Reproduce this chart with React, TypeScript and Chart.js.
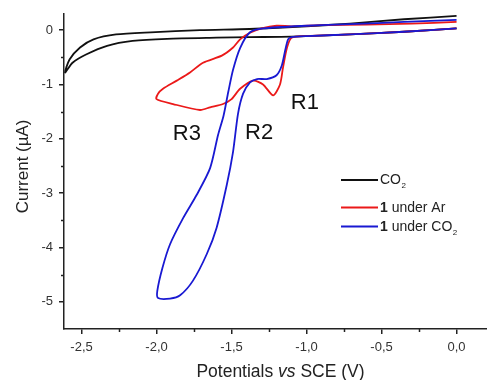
import React, { useEffect, useRef } from "react";
import { Chart, registerables } from "chart.js";
Chart.register(...registerables);

// ---- data ----
const xTicks = [-2.5, -2.0, -1.5, -1.0, -0.5, 0.0];
const yTicks = [0, -1, -2, -3, -4, -5];
const xMinorTicks = [-2.25, -1.75, -1.25, -0.75, -0.25];
const yMinorTicks = [-0.5, -1.5, -2.5, -3.5, -4.5];

// CO2 blank
const co2Potential = [0.0, -0.35, -0.71, -1.0, -1.38, -1.71, -2.04, -2.27, -2.42, -2.51, -2.58, -2.61,
  -2.56, -2.47, -2.33, -2.16, -1.93, -1.6, -1.38, -1.1, -0.71, -0.35, 0.0];
const co2Current = [0.26, 0.2, 0.12, 0.07, 0.02, 0.0, -0.04, -0.08, -0.17, -0.32, -0.54, -0.78,
  -0.6, -0.45, -0.29, -0.2, -0.16, -0.14, -0.13, -0.12, -0.08, -0.03, 0.03];

// 1 under Ar
const arPotential = [0.0, -0.35, -0.71, -1.0, -1.1, -1.13, -1.157, -1.177, -1.223, -1.29, -1.355, -1.443,
  -1.5, -1.557, -1.643, -1.71, -1.89, -2.0, -1.99, -1.957, -1.865, -1.777, -1.69, -1.565, -1.49, -1.443,
  -1.377, -1.3, -1.2, -1.1, -0.9, -0.6, -0.3, 0.0];
const arCurrent = [0.03, -0.03, -0.08, -0.11, -0.14, -0.32, -0.69, -1.0, -1.2, -1.0, -0.93, -1.08,
  -1.27, -1.36, -1.42, -1.47, -1.36, -1.27, -1.17, -1.08, -0.93, -0.78, -0.6, -0.47, -0.32, -0.17,
  -0.05, 0.03, 0.08, 0.07, 0.09, 0.1, 0.12, 0.15];

// 1 under CO2
const catPotential = [0.0, -0.35, -0.71, -1.0, -1.1, -1.123, -1.143, -1.165, -1.2, -1.265, -1.33, -1.377,
  -1.423, -1.457, -1.49, -1.532, -1.6, -1.665, -1.757, -1.843, -1.91, -1.99, -1.995, -1.96, -1.91,
  -1.823, -1.732, -1.643, -1.59, -1.553, -1.522, -1.49, -1.443, -1.377, -1.29, -1.0, -0.71, -0.35, 0.0];
const catCurrent = [0.03, -0.03, -0.08, -0.11, -0.13, -0.17, -0.38, -0.65, -0.83, -0.9, -0.9, -0.96,
  -1.17, -1.54, -2.24, -2.85, -3.64, -4.12, -4.61, -4.88, -4.94, -4.93, -4.8, -4.37, -3.94,
  -3.46, -3.03, -2.54, -1.93, -1.57, -1.14, -0.73, -0.33, -0.04, 0.03, 0.08, 0.11, 0.15, 0.19];

const peakLabels = ["R1", "R2", "R3"];
const peakPotential = [-1.105, -1.41, -1.892];
const peakCurrent = [-1.45, -2.0, -2.02];

const FONT = '"Liberation Sans", Arial, Helvetica, sans-serif';
const BLACK = "#111111";
const RED = "rgb(235,25,25)";
const BLUE = "rgb(25,25,210)";

const toPts = (xs: number[], ys: number[]) => xs.map((x, i) => ({ x, y: ys[i] }));

const overlay = {
  id: "overlay",
  afterDraw(chart: any) {
    const { ctx, chartArea } = chart;
    const xs = chart.scales.x;
    const ys = chart.scales.y;
    ctx.save();
    // minor ticks
    ctx.strokeStyle = "#222";
    ctx.lineWidth = 1.5;
    xMinorTicks.forEach((v) => {
      const px = Math.round(xs.getPixelForValue(v)) + 0.5;
      ctx.beginPath();
      ctx.moveTo(px, chartArea.bottom);
      ctx.lineTo(px, chartArea.bottom + 3);
      ctx.stroke();
    });
    yMinorTicks.forEach((v) => {
      const py = Math.round(ys.getPixelForValue(v)) + 0.5;
      ctx.beginPath();
      ctx.moveTo(chartArea.left, py);
      ctx.lineTo(chartArea.left - 3, py);
      ctx.stroke();
    });

    // peak annotations
    ctx.fillStyle = "#111";
    ctx.font = `22px ${FONT}`;
    ctx.textAlign = "left";
    ctx.textBaseline = "alphabetic";
    peakLabels.forEach((t, i) => {
      ctx.fillText(t, xs.getPixelForValue(peakPotential[i]), ys.getPixelForValue(peakCurrent[i]));
    });

    // x axis title with italic "vs"
    const parts = [
      { t: "Potentials ", f: `17.5px ${FONT}` },
      { t: "vs", f: `italic 17.5px ${FONT}` },
      { t: " SCE (V)", f: `17.5px ${FONT}` },
    ];
    let total = 0;
    parts.forEach((p) => { ctx.font = p.f; total += ctx.measureText(p.t).width; });
    let cx = (chartArea.left + chartArea.right) / 2 + 5 - total / 2;
    ctx.fillStyle = "#222";
    ctx.textBaseline = "alphabetic";
    parts.forEach((p) => {
      ctx.font = p.f;
      ctx.fillText(p.t, cx, chartArea.bottom + 48);
      cx += ctx.measureText(p.t).width;
    });

    // y axis title
    ctx.save();
    ctx.translate(23, (chartArea.top + chartArea.bottom) / 2 - 5);
    ctx.rotate(-Math.PI / 2);
    ctx.font = `17px ${FONT}`;
    ctx.textAlign = "center";
    ctx.textBaseline = "middle";
    ctx.fillText("Current (\u00B5A)", 0, 0);
    ctx.restore();

    // legend
    const rows = [
      { color: BLACK, y: 180, segs: [{ t: "CO", f: "n" }, { t: "2", f: "s" }] },
      { color: RED, y: 207.5, segs: [{ t: "1", f: "b" }, { t: " under Ar", f: "n" }] },
      { color: BLUE, y: 226.5, segs: [{ t: "1", f: "b" }, { t: " under CO", f: "n" }, { t: "2", f: "s" }] },
    ];
    const lx0 = chartArea.right - 146;
    const lx1 = chartArea.right - 109;
    rows.forEach((r) => {
      ctx.strokeStyle = r.color;
      ctx.lineWidth = 2;
      ctx.beginPath();
      ctx.moveTo(lx0, r.y);
      ctx.lineTo(lx1, r.y);
      ctx.stroke();
      let tx = lx1 + 2;
      ctx.fillStyle = "#222";
      ctx.textAlign = "left";
      r.segs.forEach((s) => {
        if (s.f === "s") {
          ctx.font = `8px ${FONT}`;
          ctx.textBaseline = "alphabetic";
          ctx.fillText(s.t, tx + 0.5, r.y + 8);
          tx += ctx.measureText(s.t).width + 1;
        } else {
          ctx.font = s.f === "b" ? `bold 14px ${FONT}` : `14px ${FONT}`;
          ctx.textBaseline = "middle";
          ctx.fillText(s.t, tx, r.y + 0.5);
          tx += ctx.measureText(s.t).width;
        }
      });
    });
    ctx.restore();
  },
};

export default function App() {
  const ref = useRef<HTMLCanvasElement | null>(null);
  useEffect(() => {
    if (!ref.current) return;
    const chart = new Chart(ref.current, {
      type: "scatter",
      data: {
        datasets: [
          { label: "CO2", data: toPts(co2Potential, co2Current), borderColor: BLACK, order: 3 },
          { label: "1 under Ar", data: toPts(arPotential, arCurrent), borderColor: RED, order: 2 },
          { label: "1 under CO2", data: toPts(catPotential, catCurrent), borderColor: BLUE, order: 1 },
        ].map((d) => ({
          ...d,
          showLine: true,
          pointRadius: 0,
          borderWidth: 1.8,
          tension: 0.25,
          fill: false,
        })),
      },
      options: {
        responsive: false,
        animation: false,
        layout: { padding: { top: 11, right: 0, left: 0, bottom: 0 } },
        plugins: { legend: { display: false }, tooltip: { enabled: false } },
        scales: {
          x: {
            type: "linear",
            min: -2.617,
            max: 0.203,
            afterBuildTicks: (s: any) => { s.ticks = xTicks.map((v) => ({ value: v })); },
            afterFit: (s: any) => { s.height = 51; },
            border: { display: true, color: "#222", width: 1.5 },
            grid: { display: true, drawOnChartArea: false, drawTicks: true, tickLength: 5, color: "#222", lineWidth: 1.5 },
            ticks: {
              autoSkip: false, maxRotation: 0, padding: 6, color: "#333",
              font: { family: FONT, size: 13 },
              callback: (v: any) => Number(v).toFixed(1).replace(".", ","),
            },
          },
          y: {
            type: "linear",
            min: -5.5,
            max: 0.3,
            afterBuildTicks: (s: any) => { s.ticks = yTicks.map((v) => ({ value: v })); },
            afterFit: (s: any) => { s.width = 64; },
            border: { display: true, color: "#222", width: 1.5 },
            grid: { display: true, drawOnChartArea: false, drawTicks: true, tickLength: 5, color: "#222", lineWidth: 1.5 },
            ticks: {
              autoSkip: false, padding: 6, color: "#333",
              font: { family: FONT, size: 13 },
              callback: (v: any) => String(v),
            },
          },
        },
      },
      plugins: [overlay],
    });
    return () => chart.destroy();
  }, []);
  return (
    <div style={{ position: "absolute", left: 0, top: 0, width: 487, height: 380, background: "#fff" }}>
      <canvas ref={ref} width={487} height={380} />
    </div>
  );
}
